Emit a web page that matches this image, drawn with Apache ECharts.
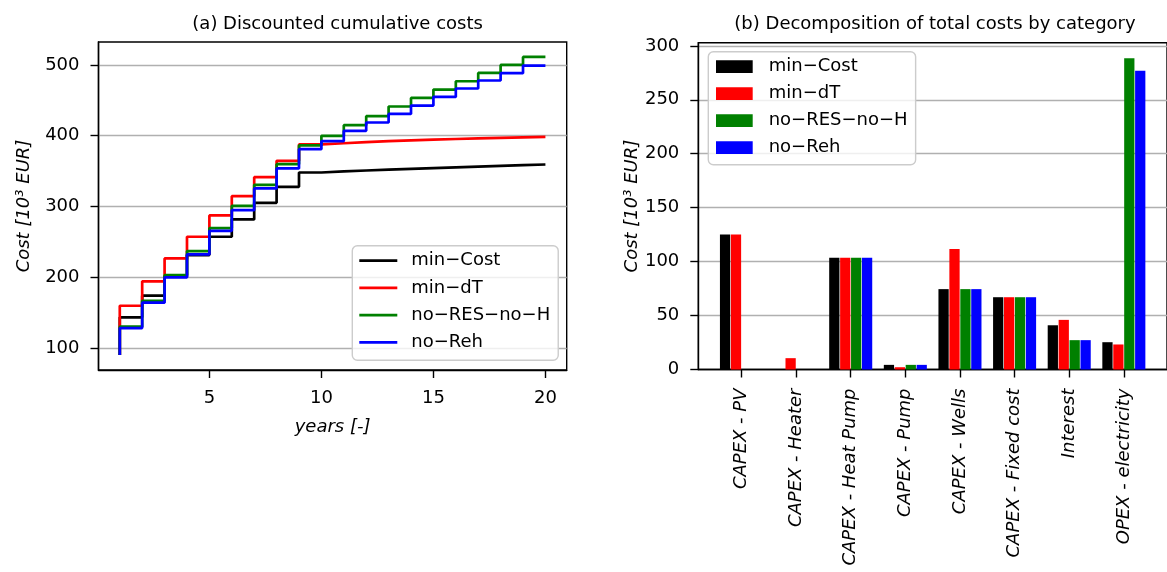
<!DOCTYPE html>
<html>
<head>
<meta charset="utf-8">
<script src="https://cdn.jsdelivr.net/npm/echarts@6/dist/echarts.min.js"></script>
<style>
html,body{margin:0;padding:0;background:#fff;}
#chart{width:1167px;height:572px;}
</style>
</head>
<body>
<div id="chart"></div>
<script>
// ---------- data ----------
const seriesNames = ['min\u2212Cost', 'min\u2212dT', 'no\u2212RES\u2212no\u2212H', 'no\u2212Reh'];
const seriesColors = ['#000000', '#ff0000', '#008000', '#0000ff'];

// (a) discounted cumulative costs, years 1..20 (drawn as steps-pre)
const years = [1,2,3,4,5,6,7,8,9,10,11,12,13,14,15,16,17,18,19,20];
const cumMinCost = [90, 143.3, 173.9, 201, 231.3, 257.2, 281.7, 305.2, 327.7, 348, 349.5, 350.8, 352, 353.1, 354.2, 355.3, 356.3, 357.3, 358.3, 359.3];
const cumMinDT   = [90, 159.7, 194.2, 226.6, 257.2, 287.3, 314.6, 341.4, 364.5, 387.6, 389.3, 391, 392.3, 393.4, 394.4, 395.3, 396.1, 396.9, 397.6, 398.3];
const cumNoRES   = [90, 130.1, 166.8, 203, 237, 269.4, 300.9, 330.6, 359.8, 386.2, 399.8, 414.8, 427.5, 441.2, 453.4, 465.2, 476.9, 488.7, 500, 511.3];
const cumNoReh   = [90, 128.2, 164, 199.8, 232.3, 265.6, 294.8, 325.5, 353.7, 381, 392.3, 406.8, 418.6, 430.8, 442.6, 454.8, 466.7, 478, 488.3, 499.1];
const cumSeries = [cumMinCost, cumMinDT, cumNoRES, cumNoReh];
const xTicksA = [5, 10, 15, 20];
const yTicksA = [100, 200, 300, 400, 500];

// (b) decomposition of total costs by category
const categories = ['CAPEX - PV', 'CAPEX - Heater', 'CAPEX - Heat Pump', 'CAPEX - Pump', 'CAPEX - Wells', 'CAPEX - Fixed cost', 'Interest', 'OPEX - electricity'];
const barMinCost = [125.2, 0, 103.5, 4.3, 74.5, 67, 41, 25.3];
const barMinDT   = [125.2, 10.5, 103.5, 2.1, 111.6, 67, 46, 23.2];
const barNoRES   = [0, 0, 103.5, 4.3, 74.5, 67, 27.2, 288.5];
const barNoReh   = [0, 0, 103.5, 4.3, 74.5, 67, 27.2, 277];
const barSeries = [barMinCost, barMinDT, barNoRES, barNoReh];
const yTicksB = [0, 50, 100, 150, 200, 250, 300];

// ---------- layout ----------
const FONT = 'DejaVu Sans';
const FS = 18;
const gridA = {left: 98.5, top: 42, width: 468.2, height: 328};
const gridB = {left: 698.3, top: 42.7, width: 474.4, height: 326.8};
const BAR_W = 0.2;

// matplotlib-like autoscale with 5% margins
function padRange(lo, hi) { const s = hi - lo; return [lo - 0.05 * s, hi + 0.05 * s]; }
const xRangeA = padRange(Math.min(...years), Math.max(...years));
const allCum = [].concat(...cumSeries);
const yRangeA = padRange(Math.min(...allCum), Math.max(...allCum));
const xRangeB = padRange(-2 * BAR_W, categories.length - 1 + 2 * BAR_W);
const allBar = [].concat(...barSeries);
const yRangeB = [0, Math.max(...allBar) * 1.05];
const pitchPx = gridB.width / (xRangeB[1] - xRangeB[0]) * BAR_W;

const axisLineStyle = {show: true, onZero: false, lineStyle: {color: '#000', width: 1.4}};
const tickStyle = {show: true, inside: false, length: 8, lineStyle: {color: '#000', width: 1.4}};
const labelBase = {color: '#000', fontFamily: FONT, fontSize: FS, margin: 19};
const gridLine = {show: true, lineStyle: {color: '#b0b0b0', width: 1.4}};
const nameStyle = {color: '#000', fontFamily: FONT, fontSize: FS, fontStyle: 'italic'};

const option = {
  animation: false,
  backgroundColor: '#fff',
  textStyle: {fontFamily: FONT},
  title: [
    {text: '(a) Discounted cumulative costs', left: gridA.left + gridA.width / 2, top: 10, textAlign: 'center',
     textStyle: {fontFamily: FONT, fontSize: FS, fontWeight: 'normal', color: '#000'}},
    {text: '(b) Decomposition of total costs by category', left: 930, top: 10, textAlign: 'center',
     textStyle: {fontFamily: FONT, fontSize: FS, fontWeight: 'normal', color: '#000'}}
  ],
  grid: [
    Object.assign({show: true, borderColor: '#000', borderWidth: 1.4, backgroundColor: 'transparent'}, gridA),
    Object.assign({show: true, borderColor: '#000', borderWidth: 1.4, backgroundColor: 'transparent'}, gridB)
  ],
  legend: [
    {
      data: seriesNames.map(n => 'a:' + n),
      formatter: n => n.slice(2),
      orient: 'vertical', left: 352.3, top: 245.7,
      icon: 'rect', itemWidth: 38, itemHeight: 2.7, itemGap: 9.2,
      selectedMode: false,
      textStyle: {fontFamily: FONT, fontSize: FS, color: '#000', padding: [0, 0, 0, 9]},
      backgroundColor: 'rgba(255,255,255,0.8)', borderColor: '#cccccc', borderWidth: 1.4, borderRadius: 5,
      padding: [6, 8, 9, 7]
    },
    {
      data: seriesNames.map(n => 'b:' + n),
      formatter: n => n.slice(2),
      orient: 'vertical', left: 708.3, top: 51.7,
      icon: 'rect', itemWidth: 36.7, itemHeight: 12.7, itemGap: 9,
      selectedMode: false,
      textStyle: {fontFamily: FONT, fontSize: FS, color: '#000', padding: [0, 0, 0, 11]},
      backgroundColor: 'rgba(255,255,255,0.8)', borderColor: '#cccccc', borderWidth: 1.4, borderRadius: 5,
      padding: [6, 8, 8, 7.7]
    }
  ],
  xAxis: [
    {
      type: 'value', gridIndex: 0, min: xRangeA[0], max: xRangeA[1],
      name: 'years [-]', nameLocation: 'middle', nameGap: 48, nameTextStyle: nameStyle,
      axisLine: axisLineStyle, axisTick: Object.assign({customValues: xTicksA}, tickStyle),
      axisLabel: Object.assign({customValues: xTicksA}, labelBase),
      splitLine: {show: false}
    },
    {
      type: 'value', gridIndex: 1, min: xRangeB[0], max: xRangeB[1],
      axisLine: axisLineStyle,
      axisTick: Object.assign({customValues: categories.map((c, i) => i)}, tickStyle),
      axisLabel: Object.assign({customValues: categories.map((c, i) => i), rotate: 90, fontStyle: 'italic',
        formatter: v => categories[Math.round(v)] || ''}, labelBase),
      splitLine: {show: false}
    }
  ],
  yAxis: [
    {
      type: 'value', gridIndex: 0, min: yRangeA[0], max: yRangeA[1],
      name: 'Cost [10\u00b3 EUR]', nameLocation: 'middle', nameGap: 65, nameTextStyle: nameStyle,
      axisLine: axisLineStyle, axisTick: Object.assign({customValues: yTicksA}, tickStyle),
      axisLabel: Object.assign({customValues: yTicksA}, labelBase),
      splitLine: gridLine
    },
    {
      type: 'value', gridIndex: 1, min: yRangeB[0], max: yRangeB[1],
      name: 'Cost [10\u00b3 EUR]', nameLocation: 'middle', nameGap: 56, nameTextStyle: nameStyle,
      axisLine: axisLineStyle, axisTick: Object.assign({customValues: yTicksB}, tickStyle),
      axisLabel: Object.assign({customValues: yTicksB}, labelBase),
      splitLine: gridLine
    }
  ],
  series: [].concat(
    cumSeries.map((arr, k) => ({
      name: 'a:' + seriesNames[k], type: 'line', xAxisIndex: 0, yAxisIndex: 0,
      step: 'start', showSymbol: false, symbol: 'none',
      color: seriesColors[k], itemStyle: {color: seriesColors[k]},
      lineStyle: {color: seriesColors[k], width: 2.7},
      data: arr.map((v, i) => [years[i], v]), z: 3 + k
    })),
    barSeries.map((arr, k) => ({
      name: 'b:' + seriesNames[k], type: 'bar', xAxisIndex: 1, yAxisIndex: 1,
      barWidth: pitchPx - 0.8, barGap: '-100%',
      color: seriesColors[k], itemStyle: {color: seriesColors[k]},
      data: arr.map((v, i) => [i + (k - 1.5) * BAR_W, v]), z: 3
    }))
  )
};

const chart = echarts.init(document.getElementById('chart'));
chart.setOption(option);
</script>
</body>
</html>
